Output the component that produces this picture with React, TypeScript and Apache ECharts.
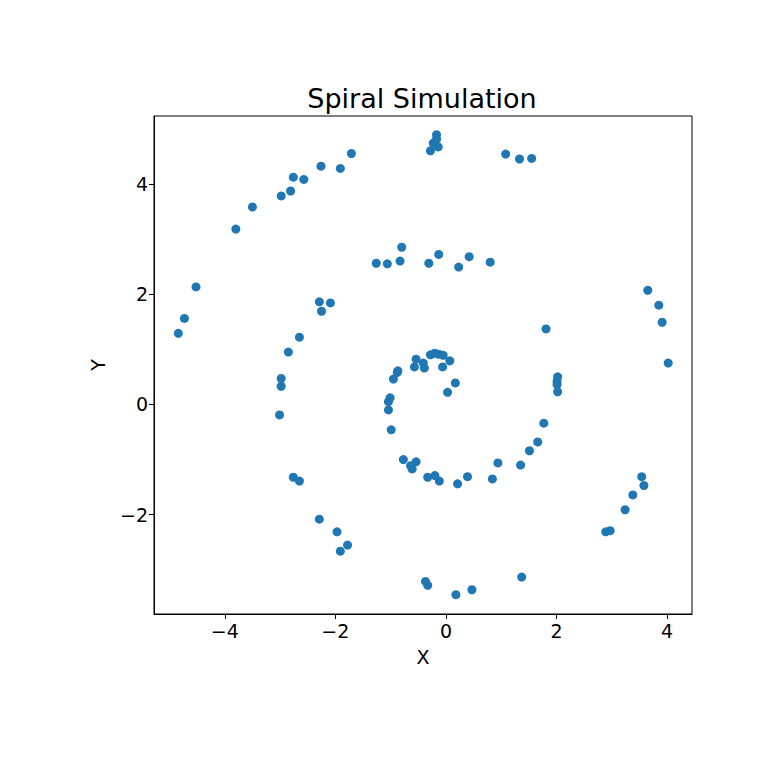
import React, { useEffect, useRef } from "react";
import * as echarts from "echarts";

const xValues: number[] = [
  -4.84, -4.73, -4.52, -3.8, -3.5, -2.98, -2.81, -2.76, -2.57, -2.26, -1.91, -1.71,
  -0.17, -0.17, -0.23, -0.14, -0.28, 1.08, 1.33, 1.55,
  3.65, 3.85, 3.91, 4.02, 3.54, 3.58, 3.38, 3.24, 2.89, 2.97, 1.37, 0.47, 0.18, -0.37, -0.33,
  -2.29, -1.97, -1.78, -1.91, -2.76, -2.65, -3.01, -2.98, -2.98, -2.85, -2.65, -2.25, -2.29, -2.09,
  -1.26, -1.06, -0.83, -0.8, -0.31, -0.13, 0.23, 0.42, 0.8,
  1.81, 2.02, 2.01, 2.01, 2.02, 1.77, 1.66, 1.51, 1.35, 0.94, 0.84, 0.39, 0.21, -0.12, -0.2, -0.33,
  -0.54, -0.64, -0.61, -0.77,
  -0.99, -1.04, -1.04, -1.01, -0.95, -0.88, -0.87, -0.57, -0.54, -0.41, -0.39, -0.28, -0.2, -0.13,
  -0.05, 0.07, -0.06, 0.17, 0.03,
];

const yValues: number[] = [
  1.29, 1.56, 2.13, 3.18, 3.58, 3.78, 3.87, 4.12, 4.08, 4.32, 4.28, 4.55,
  4.89, 4.81, 4.74, 4.67, 4.6, 4.54, 4.45, 4.46,
  2.07, 1.8, 1.49, 0.75, -1.31, -1.47, -1.64, -1.91, -2.31, -2.29, -3.13, -3.36, -3.45, -3.21, -3.28,
  -2.08, -2.31, -2.55, -2.66, -1.32, -1.39, -0.19, 0.33, 0.47, 0.95, 1.22, 1.69, 1.86, 1.84,
  2.56, 2.55, 2.6, 2.85, 2.56, 2.72, 2.49, 2.68, 2.58,
  1.37, 0.5, 0.42, 0.36, 0.23, -0.34, -0.68, -0.84, -1.1, -1.06, -1.35, -1.31, -1.44, -1.39, -1.29, -1.32,
  -1.04, -1.11, -1.17, -1.0,
  -0.46, -0.1, 0.05, 0.12, 0.46, 0.58, 0.61, 0.68, 0.82, 0.75, 0.66, 0.9, 0.93, 0.91,
  0.89, 0.79, 0.68, 0.39, 0.22,
];

const xTicks: number[] = [-4, -2, 0, 2, 4];
const yTicks: number[] = [-2, 0, 2, 4];

const fmt = (v: number | string) => String(v).replace("-", "\u2212");

export default function App() {
  const ref = useRef<HTMLDivElement>(null);
  useEffect(() => {
    if (!ref.current) return;
    const chart = echarts.init(ref.current, null, { renderer: "svg" });
    const data = xValues.map((x, i) => [x, yValues[i]]);
    const font = "DejaVu Sans";
    chart.setOption({
      animation: false,
      backgroundColor: "#ffffff",
      title: {
        text: "Spiral Simulation",
        left: 417,
        top: 80,
        textAlign: "center",
        textStyle: { fontFamily: font, fontSize: 27, fontWeight: "normal", color: "#000" },
      },
      grid: {
        left: 154,
        right: 76,
        top: 116,
        bottom: 154,
        show: true,
        borderColor: "#000",
        borderWidth: 1,
        backgroundColor: "transparent",
      },
      xAxis: {
        type: "value",
        min: -5.28,
        max: 4.45,
        name: "X",
        nameLocation: "middle",
        nameGap: 33,
        nameTextStyle: { fontFamily: font, fontSize: 19, color: "#000" },
        axisLine: { show: true, onZero: false, lineStyle: { color: "#000", width: 1 } },
        axisTick: { show: true, inside: false, length: 5, customValues: xTicks, lineStyle: { color: "#000" } },
        axisLabel: {
          customValues: xTicks,
          formatter: fmt,
          fontFamily: font,
          fontSize: 19,
          color: "#000",
          margin: 7,
        },
        splitLine: { show: false },
      },
      yAxis: {
        type: "value",
        min: -3.8,
        max: 5.23,
        name: "Y",
        nameLocation: "middle",
        nameGap: 47,
        nameTextStyle: { fontFamily: font, fontSize: 19, color: "#000" },
        axisLine: { show: true, onZero: false, lineStyle: { color: "#000", width: 1 } },
        axisTick: { show: true, inside: false, length: 5, customValues: yTicks, lineStyle: { color: "#000" } },
        axisLabel: {
          customValues: yTicks,
          formatter: fmt,
          fontFamily: font,
          fontSize: 19,
          color: "#000",
          margin: 6,
        },
        splitLine: { show: false },
      },
      series: [
        {
          type: "scatter",
          data,
          symbol: "circle",
          symbolSize: 9,
          itemStyle: { color: "#1f77b4", opacity: 1 },
        },
      ],
    });
    return () => chart.dispose();
  }, []);
  return (
    <div
      ref={ref}
      style={{ position: "fixed", left: 0, top: 0, width: 768, height: 768, background: "#fff" }}
    />
  );
}
